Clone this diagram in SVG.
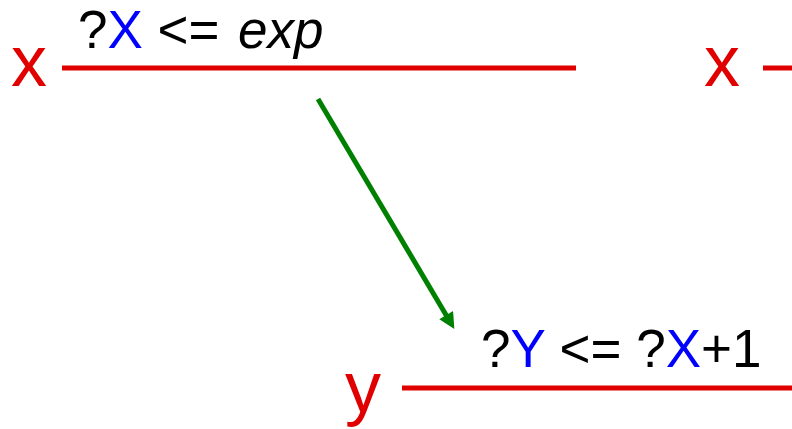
<svg xmlns="http://www.w3.org/2000/svg" width="792" height="429" viewBox="0 0 792 429">
<style>
text{font-family:"Liberation Sans",Arial,sans-serif;}
.lbl{font-size:72px;fill:#e00000;}
.expr{font-size:53px;fill:#000;}
.v{fill:#0000ff;}
.bar{stroke:#e00000;stroke-width:5;fill:none;}
.arr{stroke:#008000;stroke-width:5;fill:none;}
</style>
<defs>
<marker id="ah" viewBox="0 0 10 10" refX="3.33" refY="5" markerWidth="18" markerHeight="16" markerUnits="userSpaceOnUse" orient="auto">
<path d="M0,0 L10,5 L0,10 z" fill="#008000"/>
</marker>
</defs>
<rect width="792" height="429" fill="#fff"/>
<g id="nodeX">
<text class="lbl" x="11" y="86">x</text>
<line class="bar" x1="62" y1="68" x2="576" y2="68"/>
<text class="expr" x="78" y="48">?<tspan class="v">X</tspan> &lt;= <tspan x="238" font-style="italic">exp</tspan></text>
</g>
<g id="nodeX2">
<text class="lbl" x="704" y="86">x</text>
<line class="bar" x1="763" y1="68" x2="792" y2="68"/>
</g>
<g id="nodeY">
<text class="lbl" x="345" y="412">y</text>
<line class="bar" x1="402" y1="388" x2="792" y2="388"/>
<text class="expr" x="481" y="367">?<tspan class="v">Y</tspan> &lt;= ?<tspan class="v">X</tspan>+1</text>
</g>
<g id="connectors">
<line class="arr" x1="318" y1="99" x2="448.9" y2="319.7" marker-end="url(#ah)"/>
</g>
</svg>
